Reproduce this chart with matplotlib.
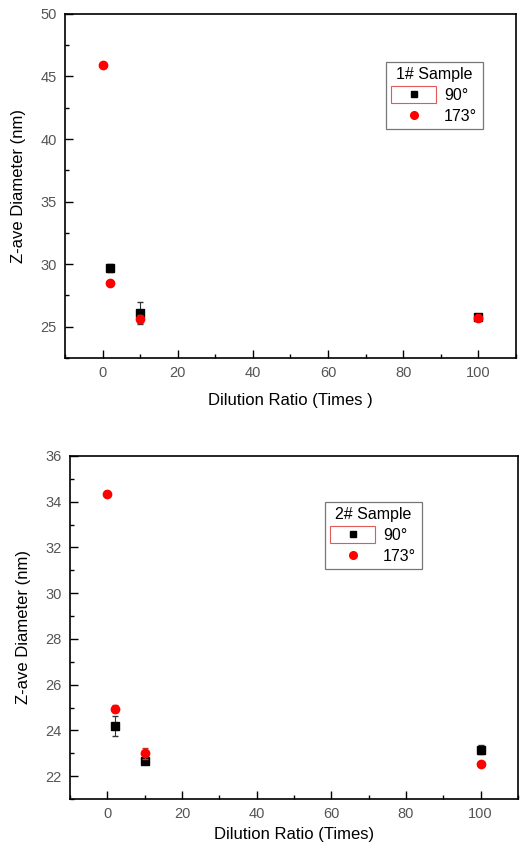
import matplotlib.pyplot as plt
from matplotlib.lines import Line2D
from matplotlib.patches import Rectangle
from matplotlib.legend_handler import HandlerLine2D
from matplotlib.ticker import MultipleLocator

plt.rcParams['font.family'] = ['Liberation Sans', 'DejaVu Sans']

# sample 1
x1_90 = [2, 10, 100]
y1_90 = [29.7, 26.1, 25.8]
e1_90 = [0.3, 0.9, 0.1]
x1_173 = [0, 2, 10, 100]
y1_173 = [45.9, 28.5, 25.6, 25.7]
e1_173 = [0.1, 0.1, 0.3, 0.1]

# sample 2
x2_90 = [2, 10, 100]
y2_90 = [24.2, 22.65, 23.15]
e2_90 = [0.45, 0.1, 0.2]
x2_173 = [0, 2, 10, 100]
y2_173 = [34.35, 24.95, 23.0, 22.55]
e2_173 = [0.05, 0.15, 0.25, 0.05]

titles = ['1# Sample', '2# Sample']
xlabels = ['Dilution Ratio (Times )', 'Dilution Ratio (Times)']


class BoxedHandler(HandlerLine2D):
    # origin style: red frame round the first legend symbol
    def create_artists(self, legend, orig_handle, xdescent, ydescent,
                       width, height, fontsize, trans):
        arts = super().create_artists(legend, orig_handle, xdescent, ydescent,
                                      width, height, fontsize, trans)
        rect = Rectangle((-xdescent, -ydescent - 2), width, height + 4,
                         fill=False, edgecolor='#e05a5a', lw=0.8,
                         transform=trans)
        return [rect] + arts


fig = plt.figure(figsize=(5.2, 8.46), dpi=100)
ax1 = fig.add_axes([0.125, 0.577, 0.867, 0.4065])
ax2 = fig.add_axes([0.1346, 0.0556, 0.8614, 0.4054])

panels = [
    (ax1, x1_90, y1_90, e1_90, x1_173, y1_173, e1_173, (22.5, 50), 5, 2.5, (0.819, 0.763), 9),
    (ax2, x2_90, y2_90, e2_90, x2_173, y2_173, e2_173, (21, 36), 2, 1, (0.677, 0.768), 4),
]

for i, (ax, xa, ya, ea, xb, yb, eb, ylim, maj, mnr, lpos, xpad) in enumerate(panels):
    ax.errorbar(xa, ya, yerr=ea, fmt='s', color='black', ms=5.5,
                ecolor='#333333', elinewidth=0.8, capsize=2.5, zorder=3)
    ax.errorbar(xb, yb, yerr=eb, fmt='o', color='red', ms=6,
                ecolor='#cc3333', elinewidth=0.8, capsize=2.5, zorder=4)
    ax.set_xlim(-10, 110)
    ax.set_ylim(*ylim)
    ax.xaxis.set_major_locator(MultipleLocator(20))
    ax.xaxis.set_minor_locator(MultipleLocator(10))
    ax.yaxis.set_major_locator(MultipleLocator(maj))
    ax.yaxis.set_minor_locator(MultipleLocator(mnr))
    ax.tick_params(which='both', direction='in', top=False, right=False,
                   labelsize=10.5, labelcolor='#555555', width=1.0, pad=6)
    ax.tick_params(which='major', length=6)
    ax.tick_params(which='minor', length=3)
    for s in ax.spines.values():
        s.set_linewidth(1.2)
    ax.set_xlabel(xlabels[i], fontsize=12, labelpad=xpad)
    ax.set_ylabel('Z-ave Diameter (nm)', fontsize=12, labelpad=10)

    h90 = Line2D([], [], ls='none', marker='s', color='black', ms=5)
    h173 = Line2D([], [], ls='none', marker='o', color='red', ms=5.5)
    leg = ax.legend([h90, h173], ['90°', '173°'], title=titles[i],
                    handler_map={h90: BoxedHandler()},
                    loc='center', bbox_to_anchor=lpos, fontsize=11.5,
                    title_fontsize=11.5, frameon=True, fancybox=False,
                    edgecolor='#555555', handlelength=2.8, handletextpad=0.5,
                    borderpad=0.35, labelspacing=0.35, borderaxespad=0)
    leg.get_frame().set_linewidth(0.9)

fig.savefig('out.png', dpi=100)
